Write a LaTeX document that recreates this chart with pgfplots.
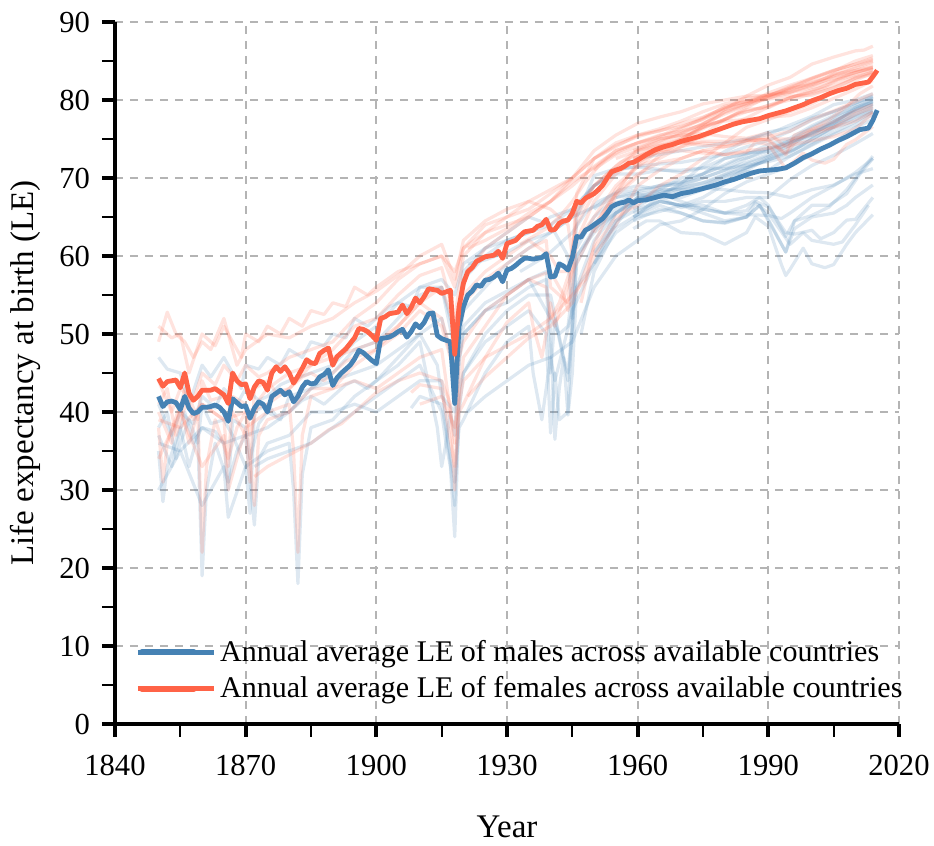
\documentclass[border=0pt]{standalone}
\usepackage{pgfplots}
\pgfplotsset{compat=1.18}
\usepackage{fontspec}
\setmainfont{Liberation Serif}
\definecolor{mblue}{HTML}{4682B4}
\definecolor{fred}{HTML}{FF6347}
\definecolor{gridgray}{HTML}{B4B4B4}
\begin{document}
\begin{tikzpicture}
\begin{axis}[
  scale only axis, width=392pt, height=351pt,
  xmin=1840, xmax=2020, ymin=0, ymax=90,
  axis x line=bottom, axis y line=left,
  axis line style={line width=2pt, -},
  xtick={1840,1870,...,2020}, ytick={0,10,...,90},
  minor x tick num=1, minor y tick num=1,
  tick align=outside,
  major tick length=6.5pt, minor tick length=6.5pt,
  major tick style={line width=2pt, black},
  minor tick style={line width=1pt, black},
  grid=major,
  major grid style={gridgray, line width=1pt, dash pattern=on 4pt off 3.5pt},
  /pgf/number format/assume math mode=true,
  /pgf/number format/1000 sep={},
  tick label style={font=\fontsize{15.3}{18}\selectfont},
  xticklabel shift=5.5pt, yticklabel shift=2.5pt,
  label style={font=\fontsize{16.5}{19}\selectfont},
  xlabel={Year}, ylabel={Life expectancy at birth (LE)},
  xlabel style={at={(axis description cs:0.5,0)}, anchor=center, yshift=-51.5pt},
  ylabel style={at={([xshift=-45pt]axis description cs:0,0.5)}, anchor=center},
  no markers,
  every axis plot/.append style={line join=round},
  mfaint/.style={mblue, opacity=0.18, line width=1.6pt, forget plot},
  ffaint/.style={fred, opacity=0.18, line width=1.6pt, forget plot},
  legend style={draw=none, fill=none, font=\fontsize{15}{18}\selectfont,
    at={(0,0)}, anchor=south west, xshift=10pt, yshift=9.5pt,
    inner sep=0pt, row sep=2pt, nodes={inner sep=2pt}},
  legend cell align=left,
  legend image code/.code={\draw[#1, line width=3pt, line cap=round, opacity=1] (2pt,0pt) -- (28pt,0pt); \path (0pt,0pt) -- (38pt,0pt);},
]
% ---------- faint male country lines ----------
\addplot[mfaint] coordinates {(1850,47) (1852,45.5) (1855,45) (1857,41) (1860,46) (1862,44.5) (1865,47) (1869,43) (1870,46) (1873,45.5) (1875,47) (1878,46) (1880,48) (1883,47) (1885,49) (1888,48.5) (1890,50) (1893,49.5) (1895,52) (1898,51) (1900,52) (1903,53.5) (1905,54) (1908,53.5) (1910,56) (1915,56) (1918,50) (1920,57) (1925,60) (1930,62) (1935,63) (1940,64) (1945,66) (1950,69) (1955,71) (1960,71.5) (1965,71.8) (1970,72) (1975,72.5) (1980,73) (1985,74) (1990,74.8) (1995,76) (2000,77.4) (2005,78.5) (2010,79.6) (2014,80.4)};
\addplot[mfaint] coordinates {(1850,38) (1852,40) (1854,34) (1855,36) (1857,39) (1859,36) (1860,41) (1862,38.5) (1865,39) (1867,37) (1870,33) (1871,27) (1872,40) (1875,41) (1877,39.5) (1880,40) (1883,41.5) (1885,42) (1888,41) (1890,42) (1893,43.5) (1895,44) (1898,43) (1900,44) (1905,46) (1910,49) (1914,38) (1915,33) (1916,36) (1917,40) (1918,37) (1919,47) (1920,50) (1925,53) (1930,54) (1935,56) (1939,57) (1940,45) (1941,52) (1944,44) (1945,50) (1946,60) (1950,63.5) (1955,65.5) (1960,67) (1965,67.6) (1970,68.4) (1975,69) (1980,70.2) (1985,71.3) (1990,72.7) (1995,73.9) (2000,75.3) (2005,76.8) (2010,78.1) (2014,79.2)};
\addplot[mfaint] coordinates {(1850,41) (1853,37) (1855,40) (1858,38.5) (1860,42) (1863,40.5) (1865,43) (1868,41) (1870,43) (1873,41.5) (1875,42) (1878,43.5) (1880,44) (1885,45) (1890,46) (1895,49) (1900,51) (1905,54) (1910,56) (1915,57) (1918,55) (1920,59) (1925,61) (1930,62) (1935,63) (1940,65) (1945,66) (1950,69) (1955,70.5) (1960,70.5) (1965,71) (1970,71) (1975,71.3) (1980,71.2) (1985,71.6) (1990,72.1) (1995,72.8) (2000,74.3) (2005,75.8) (2010,77.2) (2014,78.5)};
\addplot[mfaint] coordinates {(1850,37) (1853,33) (1856,40) (1858,36) (1860,38) (1863,37.5) (1865,36) (1866,30) (1867,39) (1870,38) (1871,34) (1873,38.5) (1875,40) (1878,39) (1880,42) (1885,43) (1890,44) (1895,45) (1900,46) (1905,48) (1910,50) (1914,46) (1915,42) (1918,40) (1919,46) (1920,51) (1925,54) (1930,55.5) (1935,57) (1940,52) (1942,50) (1944,51) (1946,60) (1950,63) (1955,65.5) (1960,67.5) (1965,67.8) (1970,68) (1975,68.8) (1980,70) (1985,71) (1990,72.5) (1995,73.5) (2000,74.6) (2005,76.3) (2010,77.5) (2014,78.6)};
\addplot[mfaint] coordinates {(1850,35) (1851,28.5) (1852,33) (1855,38) (1857,33) (1859,37) (1860,19) (1861,30) (1863,36) (1866,31) (1868,35) (1870,37) (1872,25.5) (1873,34) (1875,36) (1880,37) (1885,40) (1890,40) (1895,41) (1900,40) (1905,42) (1910,44) (1915,44) (1918,28) (1919,43) (1920,45) (1925,49) (1930,51) (1935,53) (1939,50) (1940,37.3) (1941,45) (1942,39) (1944,40) (1945,53) (1946,56) (1950,59) (1955,63) (1960,65) (1965,65.7) (1970,66.5) (1975,67.5) (1980,69.2) (1985,70.8) (1990,71) (1995,72.8) (2000,74.2) (2005,75.6) (2010,76.8) (2014,78.2)};
\addplot[mfaint] coordinates {(1850,30) (1855,35) (1860,28) (1865,33) (1866,26.5) (1870,33) (1875,35) (1880,36) (1881,30) (1882,18) (1883,32) (1885,38) (1890,39) (1895,42) (1900,44) (1905,47) (1910,50) (1915,52) (1918,45) (1920,53) (1925,56) (1930,59) (1935,61) (1940,63) (1945,65) (1950,69) (1955,71) (1960,72.5) (1965,73) (1970,73.5) (1975,74) (1980,74.5) (1985,75) (1990,75.6) (1995,76.8) (2000,77.9) (2005,79.4) (2010,80) (2014,80.8)};
\addplot[mfaint] coordinates {(1872,33) (1875,34) (1880,35) (1885,36) (1890,38) (1895,40) (1900,42) (1905,44) (1910,46) (1915,40) (1916,36) (1917,33) (1918,24) (1919,40) (1920,45) (1925,50) (1930,53) (1935,55) (1940,55) (1943,47) (1944,45) (1945,51) (1946,59) (1950,63.5) (1955,66) (1960,67.3) (1965,68) (1970,69) (1975,70) (1980,71) (1985,72.5) (1990,73.8) (1995,74.8) (2000,76.5) (2005,77.8) (2010,79.3) (2014,80.3)};
\addplot[mfaint] coordinates {(1908,40.5) (1910,42) (1915,41) (1918,31) (1919,38) (1920,39) (1925,45) (1930,49) (1935,51) (1936,45) (1938,39) (1939,43) (1940,47) (1941,44) (1945,53) (1950,59) (1955,64.5) (1960,67) (1965,68.5) (1970,70) (1975,70.5) (1980,72.5) (1985,73.2) (1990,73.4) (1995,74.4) (2000,75.7) (2005,77) (2010,79) (2014,80.1)};
\addplot[mfaint] coordinates {(1921,40) (1925,42) (1930,44) (1935,46) (1940,47) (1945,49) (1950,56) (1955,60) (1960,62) (1965,64) (1970,64.5) (1975,66) (1980,68) (1985,69.5) (1990,70.5) (1995,71.5) (2000,73) (2005,74.5) (2010,76.5) (2014,77.5)};
\addplot[mfaint] coordinates {(1959,63.5) (1962,64.5) (1965,64.5) (1970,63) (1975,62.8) (1980,61.5) (1985,63) (1987,65) (1990,63.8) (1993,58.9) (1994,57.5) (1995,58.3) (1998,61) (2000,59) (2003,58.5) (2005,58.9) (2008,61.5) (2010,63) (2014,65.3)};
\addplot[mfaint] coordinates {(1959,65) (1965,67) (1970,66.5) (1975,65.5) (1980,64.5) (1985,65) (1987,66.8) (1990,65.5) (1995,61.5) (1998,63) (2000,62) (2005,61.5) (2007,61.8) (2010,64) (2013,66.5)};
\addplot[mfaint] coordinates {(1959,65) (1965,66.5) (1970,65.5) (1975,64.5) (1980,64.3) (1985,65) (1988,66.5) (1990,64.5) (1994,60.5) (1996,63.5) (2000,65) (2005,65.5) (2008,66.5) (2010,67.5) (2014,69.1)};
\addplot[mfaint] coordinates {(1959,65.5) (1965,67) (1970,66.5) (1975,66) (1980,65.5) (1985,66.5) (1988,67.5) (1990,66.5) (1994,62.5) (1996,64.5) (2000,66.5) (2004,66.5) (2008,68) (2011,70.5) (2014,72.5)};
\addplot[mfaint] coordinates {(1950,59) (1955,64.5) (1960,66) (1965,67) (1970,66.5) (1975,66.5) (1980,65.5) (1985,65.3) (1990,65.2) (1993,64.8) (1995,65.5) (2000,67.5) (2005,69) (2010,70.7) (2014,72.5)};
\addplot[mfaint] coordinates {(1950,60) (1955,65.5) (1960,67.5) (1965,67.5) (1970,66.2) (1975,67) (1980,67) (1985,67.5) (1990,67.5) (1995,69.8) (2000,71.6) (2005,72.9) (2010,74.4) (2014,75.7)};
\addplot[mfaint] coordinates {(1947,50) (1950,58) (1955,63.6) (1960,65.3) (1965,67.7) (1970,69.3) (1975,71.7) (1980,73.4) (1985,74.8) (1990,75.9) (1995,76.4) (2000,77.7) (2005,78.5) (2010,79.6) (2014,80.5)};
\addplot[mfaint] coordinates {(1921,59) (1925,59.5) (1930,60.5) (1935,62) (1940,63) (1945,65) (1950,66.3) (1955,67.5) (1960,68.3) (1965,68.8) (1970,69.4) (1975,70.5) (1980,71.7) (1985,73) (1990,74.3) (1995,75.1) (2000,76.7) (2005,78) (2010,79.1) (2014,79.7)};
\addplot[mfaint] coordinates {(1850,36) (1855,35) (1860,38) (1865,36) (1870,37) (1875,38) (1880,40) (1885,43) (1890,45) (1895,48) (1900,49) (1905,52) (1910,55) (1915,56) (1918,48) (1920,58) (1925,61) (1930,63) (1935,65) (1940,64) (1944,60) (1945,52) (1946,65) (1950,70.3) (1955,71.2) (1960,71.4) (1965,71.1) (1970,70.7) (1975,71.3) (1980,72.5) (1985,73.1) (1990,73.8) (1995,74.6) (2000,75.5) (2005,77.2) (2010,78.8) (2014,79.9)};
\addplot[mfaint] coordinates {(1920,50) (1925,53) (1930,55) (1935,57) (1939,58) (1940,50) (1941,36.5) (1942,43) (1943,47) (1944,39.6) (1945,45) (1946,56) (1950,62) (1955,65.5) (1960,67) (1965,67.5) (1970,67.5) (1975,68.5) (1980,69.5) (1985,71.3) (1990,72.3) (1995,73.3) (2000,75) (2005,76.5) (2010,77.8) (2014,78.7)};
\addplot[mfaint] coordinates {(1950,66) (1953,67.5) (1956,68.5) (1960,69) (1963,68.7) (1966,69.2) (1970,69.5) (1973,70) (1976,70.8) (1980,71.5) (1983,72.3) (1986,72.7) (1990,73.5) (1993,74.3) (1996,75) (2000,76) (2003,76.8) (2006,77.8) (2010,78.8) (2014,79.8)};
\addplot[mfaint] coordinates {(1946,61) (1950,65) (1953,66.5) (1956,67) (1960,68) (1963,67.6) (1966,68.1) (1970,68.7) (1973,69.1) (1976,69.5) (1980,70.4) (1983,71) (1986,71.5) (1990,72.3) (1993,73) (1996,73.6) (2000,75) (2003,75.9) (2006,77) (2010,78) (2014,79)};
\addplot[mfaint] coordinates {(1933,58) (1936,59) (1939,60) (1942,61.5) (1945,63) (1948,65.5) (1951,67) (1955,68) (1960,68.5) (1965,69) (1970,69.2) (1975,70) (1980,71) (1985,72) (1990,73) (1995,74.5) (2000,75.8) (2005,77) (2010,78.5) (2014,79.5)};
\addplot[mfaint] coordinates {(1950,60.5) (1955,64) (1960,67.5) (1965,68.5) (1970,68.5) (1975,68.7) (1980,68.5) (1985,68.2) (1990,68.1) (1995,67.5) (2000,68.5) (2005,69.1) (2010,70.5) (2014,71.2)};
\addplot[mfaint] coordinates {(1959,66) (1965,68) (1970,67) (1975,66) (1980,65.5) (1985,65.8) (1987,67) (1990,66.3) (1994,63) (1996,62.8) (2000,63.3) (2002,62.2) (2005,63) (2008,64.6) (2010,64.7) (2014,67.5)};
\addplot[mfaint] coordinates {(1959,64.5) (1965,66) (1970,65.5) (1975,64.5) (1980,64.2) (1985,65) (1988,66.5) (1990,64.7) (1994,60.5) (1996,64.5) (2000,65.2) (2004,66.3) (2008,68.5) (2011,70.7) (2014,72.8)};
\addplot[mfaint] coordinates {(1955,67.5) (1960,68) (1965,68.3) (1970,68.8) (1975,69.4) (1980,70.5) (1985,71.8) (1990,72.8) (1995,74.2) (2000,75.8) (2005,77.3) (2010,78.6) (2014,79.5)};
% ---------- faint female country lines ----------
\addplot[ffaint] coordinates {(1850,51) (1853,49.5) (1855,50) (1857,45) (1860,50) (1863,48.5) (1865,51) (1869,47) (1870,50) (1873,49) (1875,51) (1878,50) (1880,52) (1883,51) (1885,53) (1888,52.5) (1890,54) (1893,53.5) (1895,56) (1898,55) (1900,56) (1905,58) (1910,59) (1915,60) (1918,56) (1920,61) (1925,64) (1930,65) (1935,66) (1940,68) (1945,70) (1950,72.5) (1955,74.5) (1960,75.5) (1965,76.3) (1970,77.3) (1975,78.5) (1980,79.5) (1985,80.2) (1990,80.6) (1995,81.5) (2000,82) (2005,82.8) (2010,83.5) (2014,84.2)};
\addplot[ffaint] coordinates {(1850,41) (1852,43) (1854,37) (1855,39) (1857,42) (1859,39) (1860,44) (1862,41.5) (1865,42) (1867,40) (1870,37) (1871,31) (1872,43) (1875,44) (1877,42.5) (1880,43) (1883,44.5) (1885,45) (1888,44) (1890,45) (1893,46.5) (1895,47) (1900,48) (1905,50) (1910,53) (1915,51) (1918,45) (1919,51) (1920,54) (1925,57) (1930,59) (1935,61) (1939,62) (1940,56) (1944,54) (1945,60) (1946,66) (1950,69) (1955,71.5) (1960,73.6) (1965,74.7) (1970,75.9) (1975,76.9) (1980,78.4) (1985,79.4) (1990,80.9) (1995,81.9) (2000,82.8) (2005,83.8) (2010,84.6) (2014,85.4)};
\addplot[ffaint] coordinates {(1850,44) (1853,40) (1855,43) (1858,41.5) (1860,45) (1863,43.5) (1865,46) (1868,44) (1870,46) (1873,44.5) (1875,45) (1880,47) (1885,48) (1890,49) (1895,52) (1900,54) (1905,57) (1910,59) (1915,60) (1918,58) (1920,61) (1925,63) (1930,64) (1935,65) (1940,67) (1945,69) (1950,71.5) (1955,73.5) (1960,74.5) (1965,75.5) (1970,76) (1975,76.8) (1980,77.3) (1985,77.5) (1990,77.8) (1995,78) (2000,79) (2005,80.2) (2010,81.4) (2014,82.5)};
\addplot[ffaint] coordinates {(1850,40) (1853,36) (1856,43) (1858,39) (1860,41) (1865,39) (1866,33) (1867,42) (1870,41) (1871,37) (1873,41.5) (1875,43) (1880,45) (1885,46) (1890,47) (1895,48) (1900,49) (1905,51) (1910,54) (1915,52) (1918,46) (1919,52) (1920,55) (1925,58) (1930,60) (1935,62) (1940,60) (1942,58) (1944,58) (1946,64) (1950,68) (1955,71) (1960,73.5) (1965,74.2) (1970,74.5) (1975,75.2) (1980,76.6) (1985,77.7) (1990,79.1) (1995,80.3) (2000,81) (2005,81.9) (2010,83) (2014,83.6)};
\addplot[ffaint] coordinates {(1850,38) (1851,31) (1852,36) (1855,41) (1857,36) (1859,40) (1860,22) (1861,33) (1863,39) (1866,34) (1868,38) (1870,40) (1872,28) (1873,37) (1875,39) (1880,40) (1885,43) (1890,43) (1895,44) (1900,43) (1905,45) (1910,47) (1915,48) (1918,36) (1919,47) (1920,49) (1925,53) (1930,55) (1935,57) (1939,56) (1940,52) (1942,54) (1945,59) (1946,62) (1950,65) (1955,69) (1960,71.5) (1965,72.5) (1970,74) (1975,75.5) (1980,77.5) (1985,78.8) (1990,79) (1995,80.3) (2000,81.1) (2005,82.4) (2010,83.5) (2014,84.1)};
\addplot[ffaint] coordinates {(1850,34) (1855,40) (1860,33) (1865,37) (1866,30) (1870,38) (1875,40) (1880,41) (1881,35) (1882,22) (1883,37) (1885,42) (1890,43) (1895,46) (1900,48) (1905,51) (1910,54) (1915,56) (1918,51) (1920,57) (1925,61) (1930,63) (1935,65) (1940,67) (1945,70) (1950,73.5) (1955,75.5) (1960,77) (1965,77.8) (1970,78.5) (1975,79.5) (1980,80) (1985,80.5) (1990,80.6) (1995,81) (2000,82) (2005,83.3) (2010,83.8) (2014,84.2)};
\addplot[ffaint] coordinates {(1872,31.7) (1875,33) (1880,34.5) (1885,36) (1889,37.7) (1892,38.5) (1895,40) (1900,42.5) (1905,44) (1910,45) (1915,44) (1917,41) (1918,30) (1919,42) (1920,47) (1925,51) (1930,55) (1935,57) (1940,58) (1943,55) (1944,53) (1945,56) (1946,62) (1950,67) (1955,70.5) (1960,72.5) (1965,74) (1970,75) (1975,76.5) (1980,77.5) (1985,79) (1990,80.5) (1995,81.5) (2000,82.8) (2005,83.8) (2010,84.6) (2014,85.2)};
\addplot[ffaint] coordinates {(1908,42.5) (1910,43.5) (1915,43) (1918,33) (1919,40) (1920,41) (1925,47) (1930,51.5) (1935,54) (1936,51) (1938,47) (1939,50) (1940,54) (1941,51) (1945,58) (1950,63.5) (1955,68.5) (1960,71.5) (1965,73.5) (1970,75) (1975,76.5) (1980,78.5) (1985,79.6) (1990,80.5) (1995,81.7) (2000,82.7) (2005,83.7) (2010,85) (2014,85.7)};
\addplot[ffaint] coordinates {(1921,42) (1925,44.5) (1930,47) (1935,49.5) (1940,51) (1945,54) (1950,61) (1955,65) (1960,66.5) (1965,69) (1970,70.5) (1975,72.5) (1980,74.5) (1985,76.5) (1990,77.5) (1995,78.5) (2000,79.5) (2005,81) (2010,82.5) (2014,83.5)};
\addplot[ffaint] coordinates {(1947,54) (1950,61.5) (1955,67.7) (1960,70.2) (1965,72.9) (1970,74.7) (1975,76.9) (1980,78.8) (1985,80.5) (1990,81.9) (1995,82.9) (2000,84.6) (2005,85.5) (2010,86.3) (2012,86.4) (2014,86.9)};
\addplot[ffaint] coordinates {(1959,71.5) (1962,72.8) (1965,73.3) (1970,73.5) (1975,73.2) (1980,73) (1985,73.3) (1987,74.6) (1990,74.3) (1994,71.2) (1995,71.7) (1998,73.2) (2000,72.3) (2003,71.9) (2005,72.4) (2008,74.3) (2010,74.9) (2014,76.6)};
\addplot[ffaint] coordinates {(1959,72.5) (1965,74) (1970,74.5) (1975,74.2) (1980,74) (1985,74.5) (1988,75) (1990,74.8) (1994,73) (1996,74.5) (2000,76) (2005,76.5) (2008,77.5) (2010,78.2) (2014,79)};
\addplot[ffaint] coordinates {(1950,63) (1955,68) (1960,70.5) (1965,72) (1970,72.5) (1975,73.5) (1980,73) (1985,73.5) (1990,73.8) (1993,74) (1995,74.6) (2000,76.2) (2005,77.2) (2010,78.6) (2014,79.4)};
\addplot[ffaint] coordinates {(1921,61) (1925,62) (1930,63.5) (1935,65.5) (1940,67) (1945,69.5) (1950,71.3) (1955,73.5) (1960,74.5) (1965,75.2) (1970,76.3) (1975,77.6) (1980,78.8) (1985,79.5) (1990,80.3) (1995,80.9) (2000,81.6) (2005,82.5) (2010,83.6) (2014,84)};
\addplot[ffaint] coordinates {(1850,39) (1855,38) (1860,41) (1865,39) (1870,40) (1875,41) (1880,43) (1885,46) (1890,48) (1895,51) (1900,52) (1905,55) (1910,57.5) (1915,58.5) (1918,52) (1920,60) (1925,63) (1930,65) (1935,67) (1940,66) (1944,64) (1945,60) (1946,68) (1950,72.5) (1955,74.2) (1960,75.3) (1965,76.1) (1970,76.6) (1975,77.5) (1980,79.2) (1985,79.8) (1990,80.1) (1995,80.5) (2000,80.6) (2005,81.6) (2010,82.8) (2014,83.3)};
\addplot[ffaint] coordinates {(1910,41) (1915,42) (1918,38) (1920,44) (1925,47) (1930,48.5) (1935,50) (1940,52) (1945,55) (1948,57) (1950,60) (1955,64) (1960,69) (1965,71) (1970,72.5) (1975,73.5) (1980,74) (1985,74.8) (1990,75) (1995,75) (2000,75.5) (2005,76.5) (2010,77.3) (2014,78.5)};
\addplot[ffaint] coordinates {(1850,49) (1852,52.8) (1854,50) (1856,49) (1858,47) (1860,49) (1862,48) (1865,52) (1868,46) (1870,48) (1875,50) (1880,49.5) (1885,51) (1890,52) (1895,54) (1900,55.5) (1905,57.5) (1910,60) (1915,61.5) (1918,57) (1920,62) (1925,64.5) (1930,66) (1935,67) (1940,68.5) (1945,70) (1950,72.5) (1955,74) (1960,75.5) (1965,76) (1970,77) (1975,77.8) (1980,79) (1985,79.8) (1990,80.5) (1995,81) (2000,81.8) (2005,83) (2010,83.8) (2014,84.5)};
\addplot[ffaint] coordinates {(1950,71) (1953,72.5) (1956,73.5) (1960,74.5) (1963,75) (1966,75.6) (1970,76.5) (1973,77.2) (1976,78) (1980,79) (1983,79.6) (1986,80) (1990,80.7) (1993,81) (1996,81.6) (2000,82.3) (2003,82.8) (2006,83.6) (2010,84.3) (2014,85)};
\addplot[ffaint] coordinates {(1946,65) (1950,69) (1953,70.5) (1956,72) (1960,73) (1963,73.7) (1966,74.3) (1970,75.2) (1973,75.8) (1976,76.6) (1980,77.5) (1983,78.3) (1986,78.6) (1990,79.3) (1993,79.9) (1996,80.5) (2000,81.3) (2003,81.7) (2006,82.6) (2010,83.2) (2014,83.9)};
\addplot[ffaint] coordinates {(1933,61.5) (1936,62.5) (1939,63.5) (1942,65) (1945,67) (1948,69.5) (1951,71.5) (1955,73) (1960,74) (1965,75) (1970,75.5) (1975,76.5) (1980,77.5) (1985,78.5) (1990,79.3) (1995,80) (2000,80.8) (2005,81.5) (2010,82.8) (2014,83.6)};
\addplot[ffaint] coordinates {(1950,64) (1955,68) (1960,72) (1965,73.5) (1970,74) (1975,74.7) (1980,74.7) (1985,74.9) (1990,75.3) (1995,76) (2000,77.5) (2005,78.6) (2010,79.8) (2014,80.8)};
\addplot[ffaint] coordinates {(1959,73.5) (1965,75) (1970,75.5) (1975,75.7) (1980,75.3) (1985,75.1) (1990,75.8) (1994,74) (1996,74.3) (2000,74.8) (2005,75.3) (2010,76.3) (2014,78.3)};
\addplot[ffaint] coordinates {(1959,72.5) (1965,73.8) (1970,74.5) (1975,74.5) (1980,74.3) (1985,74.8) (1990,74.9) (1994,73.2) (1996,75.5) (2000,76.3) (2004,77.5) (2008,79.2) (2011,80.8) (2014,81.8)};
\addplot[ffaint] coordinates {(1955,72.5) (1960,73.5) (1965,74.5) (1970,75.7) (1975,77) (1980,78.2) (1985,79.3) (1990,80.2) (1995,81.3) (2000,82.2) (2005,83.1) (2010,84.1) (2014,84.9)};
% ---------- annual averages ----------
\addplot[mblue, line width=2.4pt] coordinates {
(1850,42.0) (1851,40.7) (1852,41.3) (1853,41.4) (1854,41.2) (1855,40.3) (1856,42.0) (1857,40.5) (1858,39.8) (1859,40.0)
(1860,40.6) (1861,40.6) (1862,40.7) (1863,40.9) (1864,40.6) (1865,40.0) (1866,38.8) (1867,41.7) (1868,41.2) (1869,40.7)
(1870,40.8) (1871,39.2) (1872,40.5) (1873,41.3) (1874,41.0) (1875,40.0) (1876,42.0) (1877,42.4) (1878,42.8) (1879,42.2)
(1880,42.6) (1881,41.3) (1882,42.0) (1883,43.2) (1884,43.9) (1885,43.6) (1886,43.7) (1887,44.5) (1888,44.8) (1889,45.4)
(1890,43.4) (1891,44.4) (1892,45.0) (1893,45.5) (1894,46.0) (1895,46.8) (1896,47.9) (1897,47.6) (1898,47.1) (1899,46.6)
(1900,46.2) (1901,49.4) (1902,49.5) (1903,49.6) (1904,49.9) (1905,50.3) (1906,50.6) (1907,49.6) (1908,50.3) (1909,51.3)
(1910,50.8) (1911,51.5) (1912,52.6) (1913,52.7) (1914,49.8) (1915,49.4) (1916,49.2) (1917,49.0) (1918,41.1) (1919,51.0)
(1920,53.5) (1921,55.0) (1922,55.5) (1923,56.3) (1924,56.1) (1925,56.9) (1926,57.0) (1927,57.3) (1928,57.8) (1929,56.7)
(1930,58.2) (1931,58.4) (1932,58.8) (1933,59.3) (1934,59.7) (1935,59.7) (1936,59.6) (1937,59.7) (1938,59.8) (1939,60.3)
(1940,57.3) (1941,57.4) (1942,59.0) (1943,58.7) (1944,58.2) (1945,59.8) (1946,62.5) (1947,62.4) (1948,63.3) (1949,63.6)
(1950,64.0) (1951,64.4) (1952,64.8) (1953,65.5) (1954,66.3) (1955,66.6) (1956,66.8) (1957,66.9) (1958,67.2) (1959,66.8)
(1960,67.1) (1962,67.2) (1964,67.5) (1966,67.8) (1968,67.6) (1970,68.0) (1972,68.2) (1974,68.5) (1976,68.8) (1978,69.1)
(1980,69.5) (1982,69.8) (1984,70.2) (1986,70.6) (1988,70.9) (1990,71.0) (1992,71.1) (1994,71.3) (1996,71.9) (1998,72.6)
(2000,73.1) (2002,73.7) (2004,74.2) (2006,74.8) (2008,75.3) (2010,75.9) (2011,76.2) (2012,76.3) (2013,76.4) (2014,77.4) (2015,78.7)};
\addlegendentry{Annual average LE of males across available countries}
\addplot[fred, line width=2.4pt] coordinates {
(1850,44.3) (1851,43.3) (1852,43.9) (1853,44.0) (1854,44.1) (1855,43.1) (1856,45.0) (1857,42.4) (1858,41.5) (1859,42.0)
(1860,42.8) (1861,42.8) (1862,42.8) (1863,43.0) (1864,42.6) (1865,42.2) (1866,41.1) (1867,45.0) (1868,44.0) (1869,43.5)
(1870,43.6) (1871,41.7) (1872,43.2) (1873,44.0) (1874,43.8) (1875,42.8) (1876,45.0) (1877,45.8) (1878,45.2) (1879,45.8)
(1880,45.0) (1881,43.7) (1882,44.6) (1883,45.6) (1884,46.7) (1885,46.3) (1886,46.2) (1887,47.5) (1888,47.9) (1889,48.2)
(1890,46.0) (1891,47.1) (1892,47.6) (1893,48.1) (1894,48.8) (1895,49.5) (1896,50.7) (1897,50.6) (1898,50.3) (1899,49.8)
(1900,49.2) (1901,52.0) (1902,52.2) (1903,52.6) (1904,52.7) (1905,52.8) (1906,53.7) (1907,52.6) (1908,53.4) (1909,54.6)
(1910,54.0) (1911,54.8) (1912,55.8) (1913,55.7) (1914,55.6) (1915,55.2) (1916,55.4) (1917,55.6) (1918,47.4) (1919,53.5)
(1920,56.5) (1921,58.0) (1922,58.5) (1923,59.3) (1924,59.6) (1925,59.9) (1926,60.0) (1927,60.1) (1928,60.6) (1929,59.7)
(1930,61.6) (1931,61.8) (1932,62.0) (1933,62.6) (1934,63.1) (1935,63.2) (1936,63.3) (1937,63.8) (1938,64.0) (1939,64.7)
(1940,63.3) (1941,63.4) (1942,64.2) (1943,64.5) (1944,64.6) (1945,65.5) (1946,67.0) (1947,66.8) (1948,67.4) (1949,67.7)
(1950,68.0) (1951,68.5) (1952,69.1) (1953,70.0) (1954,70.8) (1955,71.0) (1956,71.2) (1957,71.5) (1958,71.9) (1959,72.0)
(1960,72.3) (1962,73.0) (1964,73.6) (1966,74.0) (1968,74.3) (1970,74.7) (1972,75.0) (1974,75.3) (1976,75.7) (1978,76.1)
(1980,76.5) (1982,76.9) (1984,77.2) (1986,77.4) (1988,77.6) (1990,78.0) (1992,78.3) (1994,78.6) (1996,79.0) (1998,79.4)
(2000,79.9) (2002,80.3) (2004,80.8) (2006,81.2) (2008,81.5) (2010,82.0) (2012,82.2) (2013,82.3) (2014,83.0) (2015,83.8)};
\addlegendentry{Annual average LE of females across available countries}
\end{axis}
\pgfresetboundingbox
\path (-57.5pt,-61pt) rectangle (409.5pt,362pt);
\end{tikzpicture}
\end{document}
